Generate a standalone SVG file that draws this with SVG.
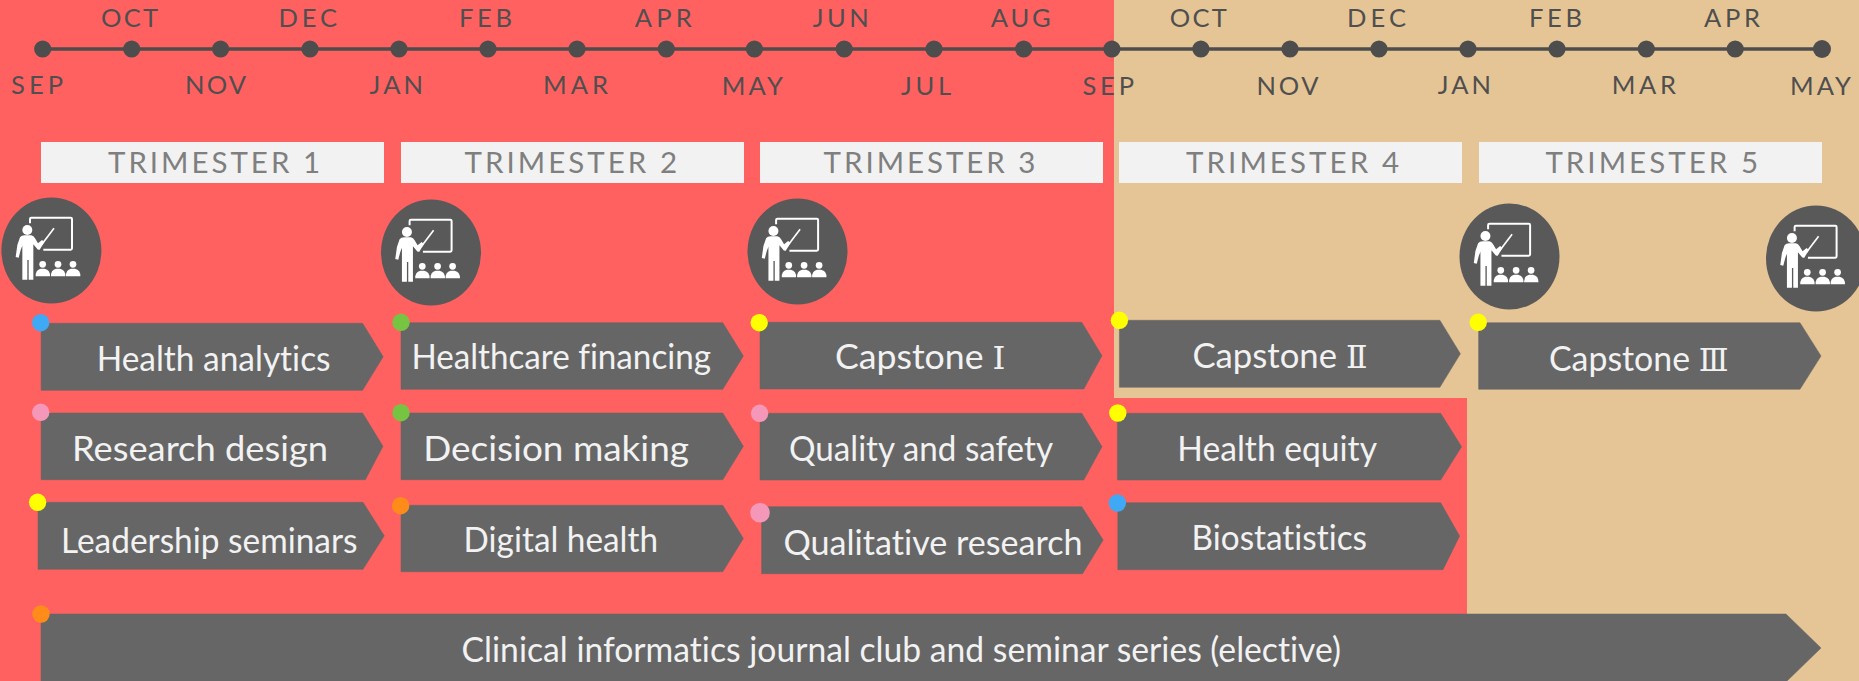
<svg xmlns="http://www.w3.org/2000/svg" xmlns:xlink="http://www.w3.org/1999/xlink" width="1859" height="681" viewBox="0 0 1859 681">
<style>
text{font-family:"Lato","Noto Sans CJK SC",sans-serif;font-variant-ligatures:none}
.m{font-size:25.5px;fill:#4f4f4f}
.tb{fill:#f2f2f2}
.t{font-size:29.5px;fill:#7f7f7f}
.c{fill:#666;stroke:#666;stroke-opacity:.5;stroke-width:1}
.l{font-size:35px;fill:#f2f2f2}
.n{font-family:"DejaVu Serif",serif;font-size:32px}
.d{fill:#4d4d4d}
.ic{fill:#595959}
.blue{fill:#3fa9f5}.pink{fill:#f497b8}.yellow{fill:#ff0}.green{fill:#76c442}.orange{fill:#ff8c1a}
</style>
<defs>
<g id="teach" transform="scale(.3333) translate(-154.2,-165)">
<path d="M90 85V72Q90 68 94 68H212Q216 68 216 72V160Q216 164 212 164H130" fill="none" stroke="#fff" stroke-width="6"/>
<path d="M124 150L162 100" fill="none" stroke="#fff" stroke-width="5"/>
<circle cx="82" cy="105" r="15" fill="#fff"/>
<path d="M60 127Q64 121 74 121H94Q101 122 105 130L114 145L126 135L133 141L119 164Q114 166 110 160L100 148V254H86V195H82V254H67V152L62 165L56 188L47 186L52 150Z" fill="#fff"/>
<g id="pupil" fill="#fff"><circle cx="128" cy="208" r="10"/><path d="M107 244Q106 225 122 221H134Q151 225 150 244Z"/></g>
<use xlink:href="#pupil" href="#pupil" x="46"/>
<use xlink:href="#pupil" href="#pupil" x="91"/>
</g>
</defs>
<rect id="bg-tan" width="1859" height="681" fill="#e5c595"/>
<path id="bg-red" d="M0 0H1114V398H1467V681H0Z" fill="#ff6161"/>
<g id="connectors"><line x1="42.7" y1="49" x2="1822" y2="49" stroke="#4d4d4d" stroke-width="3.4"/></g>
<g id="timeline-dots">
<circle class="d" cx="42.7" cy="49" r="8.6"/><circle class="d" cx="131.7" cy="49" r="8.6"/><circle class="d" cx="220.6" cy="49" r="8.6"/><circle class="d" cx="310" cy="49" r="8.6"/><circle class="d" cx="399" cy="49" r="8.6"/><circle class="d" cx="488" cy="49" r="8.6"/><circle class="d" cx="577" cy="49" r="8.6"/><circle class="d" cx="666.3" cy="49" r="8.6"/><circle class="d" cx="754.4" cy="49" r="8.6"/><circle class="d" cx="844.2" cy="49" r="8.6"/><circle class="d" cx="934" cy="49" r="8.6"/><circle class="d" cx="1023.7" cy="49" r="8.6"/><circle class="d" cx="1111.9" cy="49" r="8.6"/><circle class="d" cx="1200.9" cy="49" r="8.6"/><circle class="d" cx="1290" cy="49" r="8.6"/><circle class="d" cx="1379" cy="49" r="8.6"/><circle class="d" cx="1468" cy="49" r="8.6"/><circle class="d" cx="1557" cy="49" r="8.6"/><circle class="d" cx="1646.3" cy="49" r="8.6"/><circle class="d" cx="1735.2" cy="49" r="8.6"/><circle class="d" cx="1822" cy="49" r="9"/>
</g>
<g id="months">
<text class="m" x="11" y="94" textLength="52" lengthAdjust="spacing">SEP</text>
<text class="m" x="101" y="26.7" textLength="57" lengthAdjust="spacing">OCT</text>
<text class="m" x="185" y="94" textLength="61" lengthAdjust="spacing">NOV</text>
<text class="m" x="278.6" y="26.7" textLength="58.4" lengthAdjust="spacing">DEC</text>
<text class="m" x="369.5" y="94" textLength="53.5" lengthAdjust="spacing">JAN</text>
<text class="m" x="459" y="26.7" textLength="53" lengthAdjust="spacing">FEB</text>
<text class="m" x="543" y="94" textLength="65" lengthAdjust="spacing">MAR</text>
<text class="m" x="634.8" y="26.7" textLength="57" lengthAdjust="spacing">APR</text>
<text class="m" x="721.8" y="95" textLength="61" lengthAdjust="spacing">MAY</text>
<text class="m" x="812.8" y="26.7" textLength="56" lengthAdjust="spacing">JUN</text>
<text class="m" x="901" y="95" textLength="50" lengthAdjust="spacing">JUL</text>
<text class="m" x="990.7" y="26.7" textLength="60" lengthAdjust="spacing">AUG</text>
<text class="m" x="1082.4" y="95" textLength="51.6" lengthAdjust="spacing">SEP</text>
<text class="m" x="1169.8" y="26.7" textLength="57" lengthAdjust="spacing">OCT</text>
<text class="m" x="1256.6" y="95" textLength="62" lengthAdjust="spacing">NOV</text>
<text class="m" x="1347" y="26.7" textLength="59" lengthAdjust="spacing">DEC</text>
<text class="m" x="1437.7" y="94" textLength="53.3" lengthAdjust="spacing">JAN</text>
<text class="m" x="1529" y="26.7" textLength="53" lengthAdjust="spacing">FEB</text>
<text class="m" x="1611.7" y="94" textLength="64.3" lengthAdjust="spacing">MAR</text>
<text class="m" x="1704" y="26.7" textLength="56" lengthAdjust="spacing">APR</text>
<text class="m" x="1790" y="95" textLength="61" lengthAdjust="spacing">MAY</text>
</g>
<g id="trimester-1"><rect class="tb" x="41" y="142" width="343" height="41"/><text class="t" x="108" y="173.3" textLength="212" lengthAdjust="spacing">TRIMESTER 1</text></g>
<g id="trimester-2"><rect class="tb" x="401" y="142" width="343" height="41"/><text class="t" x="464.6" y="173.3" textLength="212.4" lengthAdjust="spacing">TRIMESTER 2</text></g>
<g id="trimester-3"><rect class="tb" x="760" y="142" width="343" height="41"/><text class="t" x="823.6" y="173.3" textLength="211.8" lengthAdjust="spacing">TRIMESTER 3</text></g>
<g id="trimester-4"><rect class="tb" x="1119" y="142" width="343" height="41"/><text class="t" x="1186" y="173.3" textLength="213" lengthAdjust="spacing">TRIMESTER 4</text></g>
<g id="trimester-5"><rect class="tb" x="1479" y="142" width="343" height="41"/><text class="t" x="1545.4" y="173.3" textLength="212.6" lengthAdjust="spacing">TRIMESTER 5</text></g>
<g id="icon-1"><ellipse class="ic" cx="51.4" cy="250.5" rx="50" ry="53"/><use xlink:href="#teach" href="#teach" x="51.4" y="250"/></g>
<g id="icon-2"><ellipse class="ic" cx="431" cy="252.5" rx="50" ry="53"/><use xlink:href="#teach" href="#teach" x="431" y="252"/></g>
<g id="icon-3"><ellipse class="ic" cx="797.5" cy="251.5" rx="50" ry="53"/><use xlink:href="#teach" href="#teach" x="797.5" y="251"/></g>
<g id="icon-4"><ellipse class="ic" cx="1509.5" cy="256.5" rx="50" ry="53"/><use xlink:href="#teach" href="#teach" x="1509.5" y="256"/></g>
<g id="icon-5"><ellipse class="ic" cx="1816" cy="258.5" rx="50" ry="53"/><use xlink:href="#teach" href="#teach" x="1816" y="258"/></g>
<g id="health-analytics"><path class="c" d="M41.1 323.3H362.6L383.2 356.7L362.6 390.3H41.1Z"/><circle class="blue" cx="40.7" cy="322.7" r="8.7"/><text class="l" x="96.7" y="371" textLength="233.9" lengthAdjust="spacingAndGlyphs">Health analytics</text></g>
<g id="research-design"><path class="c" d="M41.1 413H362.6L383 446.3L365.4 479.7H41.1Z"/><circle class="pink" cx="40.7" cy="412.3" r="8.7"/><text class="l" x="72" y="461" textLength="256" lengthAdjust="spacingAndGlyphs">Research design</text></g>
<g id="leadership-seminars"><path class="c" d="M38 502.3H363L384.3 535.8L363 569.3H38Z"/><circle class="yellow" cx="37.6" cy="502.3" r="8.7"/><text class="l" x="61" y="552.7" textLength="296.5" lengthAdjust="spacingAndGlyphs">Leadership seminars</text></g>
<g id="healthcare-financing"><path class="c" d="M401 322.7H722.8L743.4 356L722.8 389.3H401Z"/><circle class="green" cx="401" cy="322.3" r="8.7"/><text class="l" x="411.4" y="369.3" textLength="299.6" lengthAdjust="spacingAndGlyphs">Healthcare financing</text></g>
<g id="decision-making"><path class="c" d="M401 413H722.8L743.4 446.3L722.8 479.7H401Z"/><circle class="green" cx="401" cy="412.7" r="8.7"/><text class="l" x="423.3" y="461" textLength="265.7" lengthAdjust="spacingAndGlyphs">Decision making</text></g>
<g id="digital-health"><path class="c" d="M401 505.3H722.8L743.4 538.5L722.8 571.7H401Z"/><circle class="orange" cx="400.6" cy="505.7" r="8.7"/><text class="l" x="463.6" y="552.3" textLength="194.4" lengthAdjust="spacingAndGlyphs">Digital health</text></g>
<g id="capstone-1"><path class="c" d="M760 322.3H1081.8L1102 355.7L1083.8 389H760Z"/><circle class="yellow" cx="759.2" cy="322.7" r="8.7"/><text class="l" x="835" y="369.3" textLength="170.5" lengthAdjust="spacingAndGlyphs">Capstone <tspan class="n">Ⅰ</tspan></text></g>
<g id="quality-safety"><path class="c" d="M760 413.3H1081.8L1102 446.7L1083.8 480H760Z"/><circle class="pink" cx="759.6" cy="413.3" r="8.7"/><text class="l" x="789" y="461" textLength="264" lengthAdjust="spacingAndGlyphs">Quality and safety</text></g>
<g id="qualitative-research"><path class="c" d="M761.6 506.7H1081.8L1103.2 540L1082.6 573.7H761.6Z"/><circle class="pink" cx="760" cy="512.7" r="9.8"/><text class="l" x="783.5" y="555" textLength="299.1" lengthAdjust="spacingAndGlyphs">Qualitative research</text></g>
<g id="capstone-2"><path class="c" d="M1119.4 320.3H1439.9L1460.4 353.8L1439.9 387.3H1119.4Z"/><circle class="yellow" cx="1119.4" cy="320.3" r="8.7"/><text class="l" x="1192.4" y="367.7" textLength="175.1" lengthAdjust="spacingAndGlyphs">Capstone <tspan class="n">Ⅱ</tspan></text></g>
<g id="health-equity"><path class="c" d="M1117.4 413.3H1440.7L1461.6 446.7L1440.7 480H1117.4Z"/><circle class="yellow" cx="1117.8" cy="413" r="8.7"/><text class="l" x="1177.3" y="461" textLength="199.7" lengthAdjust="spacingAndGlyphs">Health equity</text></g>
<g id="biostatistics"><path class="c" d="M1117.8 502.7H1440.7L1459.6 536L1443 569.7H1117.8Z"/><circle class="blue" cx="1117.4" cy="503" r="8.7"/><text class="l" x="1191.6" y="550.3" textLength="175.4" lengthAdjust="spacingAndGlyphs">Biostatistics</text></g>
<g id="capstone-3"><path class="c" d="M1478.6 322.7H1800L1821 356L1800 389.3H1478.6Z"/><circle class="yellow" cx="1478.2" cy="322.3" r="8.7"/><text class="l" x="1549" y="371.3" textLength="179.5" lengthAdjust="spacingAndGlyphs">Capstone <tspan class="n">Ⅲ</tspan></text></g>
<g id="journal-club"><path class="c" d="M41 614H1786L1821 648L1786 682H41Z"/><circle class="orange" cx="41" cy="614" r="8.7"/><text class="l" x="461.6" y="662.3" textLength="879.4" lengthAdjust="spacingAndGlyphs">Clinical informatics journal club and seminar series (elective)</text></g>
</svg>
